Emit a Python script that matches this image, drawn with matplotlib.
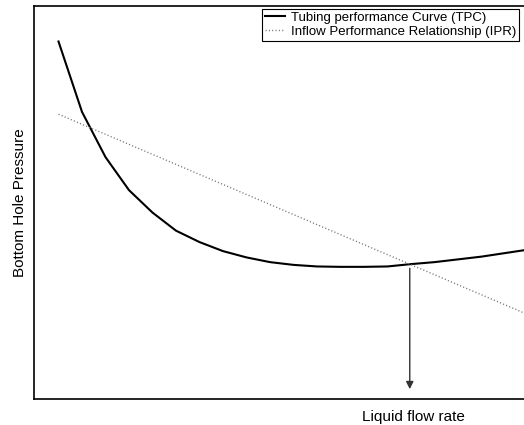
import numpy as np
import matplotlib.pyplot as plt

plt.rcParams['font.family'] = ['Liberation Sans', 'DejaVu Sans']

# Tubing performance curve (TPC), read at regular flow-rate steps
tpc_q = [4.9, 9.6, 14.3, 19.0, 23.7, 28.4, 33.1, 37.8, 42.5, 47.2, 51.9,
         56.6, 61.3, 66.0, 70.7, 75.4, 80.1, 84.8, 89.5, 94.2, 98.9]
tpc_p = [90.9, 73.0, 61.5, 53.1, 47.4, 42.8, 39.9, 37.6, 36.0, 34.8, 34.1,
         33.7, 33.6, 33.6, 33.7, 34.3, 34.8, 35.5, 36.2, 37.1, 38.0]

# Inflow performance relationship (IPR), straight line
ipr_q = [4.9, 100.0]
ipr_p = [72.4, 20.8]

# operating point: where the two curves cross
q_grid = np.linspace(tpc_q[0], tpc_q[-1], 2000)
diff = np.interp(q_grid, tpc_q, tpc_p) - np.interp(q_grid, ipr_q, ipr_p)
idx = np.where(np.diff(np.sign(diff)) != 0)[0][-1]
q_op = q_grid[idx]
p_op = np.interp(q_op, ipr_q, ipr_p)

fig = plt.figure(figsize=(5.24, 4.25), dpi=100)
ax = fig.add_axes([34 / 524, 1 - 399 / 425, 500 / 524, 393.3 / 425])

ax.plot(tpc_q, tpc_p, color='black', lw=1.5, solid_joinstyle='miter',
        label='Tubing performance Curve (TPC)')
ax.plot(ipr_q, ipr_p, color='#777777', lw=1.0, linestyle=(0, (0.8, 1.6)),
        label='Inflow Performance Relationship (IPR)')

ax.annotate('', xy=(q_op, 2.5), xytext=(q_op, p_op),
            arrowprops=dict(arrowstyle='-|>', color='#333333', lw=1.0,
                            mutation_scale=11, shrinkA=3, shrinkB=0))

ax.set_xlim(0, 100)
ax.set_ylim(0, 100)
ax.set_xticks([])
ax.set_yticks([])
for s in ax.spines.values():
    s.set_linewidth(1.2)

ax.set_xlabel('Liquid flow rate', fontsize=11, va='center')
ax.xaxis.set_label_coords((413 - 34) / 500, (399 - 417) / 393.3)
ax.set_ylabel('Bottom Hole Pressure', fontsize=11, va='center')
ax.yaxis.set_label_coords((20 - 34) / 500, 0.5)

leg = ax.legend(loc='upper right', bbox_to_anchor=(519 / 524, 1 - 9 / 425),
                bbox_transform=fig.transFigure, borderaxespad=0,
                fontsize=9.5, frameon=True, fancybox=False, framealpha=1,
                edgecolor='black', handlelength=1.5, handletextpad=0.5,
                labelspacing=0.15, borderpad=0.2)
leg.get_frame().set_linewidth(0.8)

fig.savefig('out.png', dpi=100)
